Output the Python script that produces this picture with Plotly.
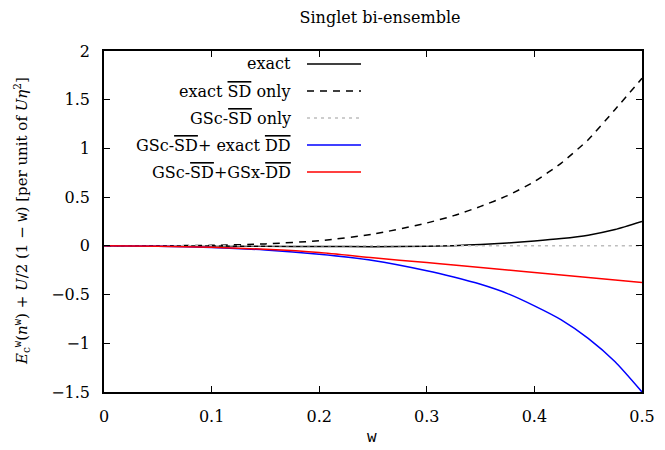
import plotly.graph_objects as go

# ---- data ----
w = [0, 0.05, 0.1, 0.15, 0.2, 0.25, 0.3, 0.325, 0.35, 0.375, 0.4, 0.425, 0.45, 0.475, 0.5]
exact = [0, 0.0, -0.002, -0.004, -0.007, -0.008, -0.005, 0.002, 0.015, 0.03, 0.05, 0.075, 0.11, 0.167, 0.25]
exact_sd_only = [0, 0.001, 0.005, 0.02, 0.053, 0.12, 0.235, 0.31, 0.405, 0.515, 0.66, 0.85, 1.09, 1.40, 1.72]
gsc_sd_only = [0, 0, 0, 0, 0, 0, 0, 0, 0, 0, 0, 0, 0, 0, 0]
gsc_sd_exact_dd = [0, -0.003, -0.016, -0.042, -0.086, -0.15, -0.255, -0.32, -0.395, -0.49, -0.616, -0.76, -0.95, -1.19, -1.5]
gsc_sd_gsx_dd = [0, -0.003, -0.015, -0.035, -0.068, -0.122, -0.172, -0.197, -0.222, -0.248, -0.274, -0.3, -0.325, -0.35, -0.376]

OV = '<span style="text-decoration:overline">{}</span>'
SD = OV.format("SD")
DD = OV.format("DD")
names = ["exact", f"exact {SD} only", f"GSc-{SD} only", f"GSc-{SD}+ exact {DD}", f"GSc-{SD}+GSx-{DD}"]
series = [exact, exact_sd_only, gsc_sd_only, gsc_sd_exact_dd, gsc_sd_gsx_dd]
colors = ["#000000", "#000000", "#bdbdbd", "#0000ff", "#ff0000"]
dashes = ["solid", "7px,6px", "3px,4px", "solid", "solid"]

xticks = [0, 0.1, 0.2, 0.3, 0.4, 0.5]
yticks = [-1.5, -1, -0.5, 0, 0.5, 1, 1.5, 2]
ytext = ["\u22121.5", "\u22121", "\u22120.5", "0", "0.5", "1", "1.5", "2"]

SERIF = "DejaVu Serif"
MONO = "DejaVu Sans Mono"

# page body has an 8px margin: figure drawn at (8, 8) in the window
OFF = 8
W, H = 657, 442
L, R, T, B = 96, 23, 43, 58
pw, ph = W - L - R, H - T - B

fig = go.Figure()
for name, ys, c, d in zip(names, series, colors, dashes):
    fig.add_trace(go.Scatter(x=w, y=ys, mode="lines", name=name,
                             line=dict(color=c, width=1.5, dash=d, shape="spline", smoothing=0.6),
                             showlegend=False))

def px2paper(xp, yp):
    # xp, yp: window pixel coordinates
    return (xp - OFF - L) / pw, (H - B - (yp - OFF)) / ph

# manual legend (text right-aligned, sample on the right, like gnuplot)
rows = [64, 91, 118, 145, 172]
for name, c, d, yp in zip(names, colors, dashes, rows):
    xa, ya = px2paper(293, yp)
    fig.add_annotation(x=xa, y=ya, xref="paper", yref="paper", text=name, showarrow=False,
                       xanchor="right", yanchor="middle", font=dict(family=SERIF, size=16, color="#000"))
    x0, y0 = px2paper(307, yp)
    x1, _ = px2paper(361, yp)
    fig.add_shape(type="line", xref="paper", yref="paper", x0=x0, x1=x1, y0=y0, y1=y0,
                  line=dict(color=c, width=1.5, dash=d))

TW = f'<span style="font-family:{MONO}">w</span>'
ylabel = (f"<i>E</i><sub>c</sub><sup>{TW}</sup>(<i>n</i><sup>{TW}</sup>) + <i>U</i>/2 (1 \u2212 {TW}) "
          f"[per unit of <i>U\u03b7</i><sup>2</sup>]")

# axis titles as annotations for exact placement
xa, ya = px2paper(372, 437)
fig.add_annotation(x=xa, y=ya, xref="paper", yref="paper", text="w", showarrow=False,
                   xanchor="center", yanchor="middle", font=dict(family=MONO, size=16, color="#000"))
xa, ya = px2paper(21, 221)
fig.add_annotation(x=xa, y=ya, xref="paper", yref="paper", text=ylabel, showarrow=False, textangle=-90,
                   xanchor="center", yanchor="middle", font=dict(family=SERIF, size=15, color="#000"))

fig.update_layout(
    width=W, height=H, margin=dict(l=L, r=R, t=T, b=B, autoexpand=False),
    paper_bgcolor="white", plot_bgcolor="white",
    font=dict(family=SERIF, size=16, color="#000"),
    title=dict(text="Singlet bi-ensemble", x=(380 - OFF) / W, xanchor="center", xref="container",
               y=1 - (17 - OFF) / H, yanchor="middle", yref="container",
               font=dict(family=SERIF, size=16)),
    xaxis=dict(range=[0, 0.5], tickvals=xticks, ticktext=[f"{v:g}" for v in xticks],
               showline=True, linecolor="#000", linewidth=1.5, mirror="ticks",
               ticks="inside", ticklen=6, tickwidth=1, tickcolor="#000", showgrid=False, zeroline=False,
               ticklabelstandoff=9, automargin=False, tickfont=dict(family=SERIF, size=16)),
    yaxis=dict(range=[-1.5, 2], tickvals=yticks, ticktext=ytext,
               showline=True, linecolor="#000", linewidth=1.5, mirror="ticks",
               ticks="inside", ticklen=6, tickwidth=1, tickcolor="#000", showgrid=False, zeroline=False,
               ticklabelstandoff=9, automargin=False, tickfont=dict(family=SERIF, size=16)),
)

fig.write_html("out.html")
